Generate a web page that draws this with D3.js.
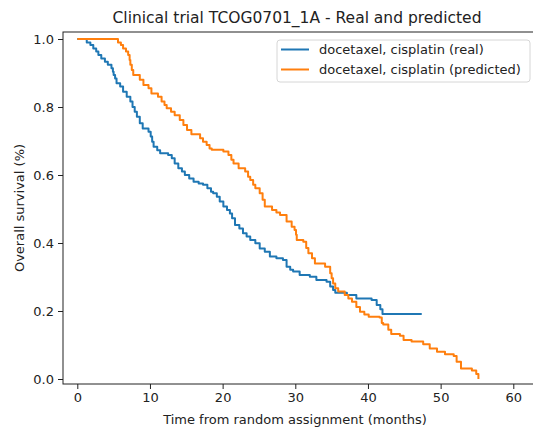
<!DOCTYPE html>
<html><head><meta charset="utf-8">
<script src="https://cdn.jsdelivr.net/npm/d3@7"></script>
<style>body{margin:0;background:#fff}svg{display:block}</style>
</head><body>
<svg id="c" width="533" height="427"></svg>
<script>
const title = "Clinical trial TCOG0701_1A - Real and predicted";
const xLabel = "Time from random assignment (months)";
const yLabel = "Overall survival (%)";
const seriesNames = ["docetaxel, cisplatin (real)", "docetaxel, cisplatin (predicted)"];
const seriesColors = ["#1f77b4", "#ff7f0e"];
const xTicks = [0, 10, 20, 30, 40, 50, 60];
const yTicks = [0.0, 0.2, 0.4, 0.6, 0.8, 1.0];

const realTimes = [0,1.3,1.8,2.2,2.6,2.9,3.3,3.8,4.2,4.7,4.9,5.0,5.2,5.4,5.9,6.3,6.8,7.3,7.6,7.9,8.2,8.6,9.0,9.8,10.1,10.3,10.5,11.0,11.4,12.5,13.0,13.4,13.9,14.4,14.8,15.4,16.0,16.7,17.3,17.9,18.4,18.7,19.2,19.6,20.1,20.6,21.0,21.3,21.7,22.3,22.8,23.3,23.8,24.5,25.1,25.8,26.5,27.4,28.3,28.8,29.3,29.7,30.6,32.0,32.9,34.3,34.8,35.2,35.5,37.1,38.4,40.5,41.2,41.7,42.0,47.4];
const realSurv = [1.000,0.990,0.982,0.972,0.963,0.953,0.943,0.933,0.924,0.914,0.904,0.894,0.884,0.870,0.860,0.845,0.830,0.816,0.800,0.786,0.771,0.752,0.737,0.727,0.713,0.698,0.683,0.673,0.664,0.659,0.649,0.634,0.620,0.610,0.600,0.590,0.580,0.575,0.571,0.561,0.551,0.546,0.536,0.522,0.507,0.497,0.487,0.473,0.453,0.443,0.429,0.419,0.409,0.399,0.384,0.374,0.360,0.355,0.350,0.330,0.321,0.316,0.306,0.301,0.291,0.286,0.272,0.262,0.254,0.247,0.237,0.232,0.218,0.205,0.191,0.191];

const predTimes = [0,5.6,6.0,6.3,6.7,7.0,7.2,7.3,7.5,7.7,8.6,9.1,9.8,10.2,11.1,11.6,12.0,12.3,12.9,13.4,14.1,14.6,15.1,15.7,16.9,17.3,17.8,18.2,18.5,20.1,20.8,21.2,21.5,22.2,23.1,23.5,23.8,24.2,24.5,25.1,25.5,25.8,26.8,27.4,27.9,28.8,29.5,29.9,30.1,30.2,31.1,31.5,31.8,32.3,32.7,34.1,34.8,35.0,35.2,35.5,35.9,36.8,37.3,37.8,38.4,38.9,39.5,40.1,41.6,41.9,42.1,42.8,43.2,44.4,44.9,46.0,47.6,48.5,49.5,50.6,51.8,52.2,52.8,54.3,54.9,55.2];
const predSurv = [1.000,0.990,0.982,0.972,0.963,0.953,0.938,0.924,0.909,0.894,0.880,0.865,0.855,0.840,0.830,0.816,0.806,0.796,0.786,0.776,0.762,0.747,0.732,0.720,0.708,0.698,0.688,0.678,0.674,0.669,0.659,0.645,0.634,0.620,0.610,0.595,0.585,0.571,0.561,0.546,0.527,0.507,0.497,0.490,0.482,0.463,0.448,0.438,0.424,0.409,0.404,0.385,0.370,0.355,0.340,0.330,0.311,0.296,0.281,0.267,0.257,0.247,0.237,0.227,0.212,0.198,0.190,0.183,0.181,0.165,0.160,0.145,0.132,0.127,0.115,0.110,0.102,0.090,0.080,0.073,0.068,0.051,0.031,0.025,0.015,0.000];

const svg = d3.select("#c");
const font = "DejaVu Sans, sans-serif";
const axL = 63, axR = 536, axT = 32, axB = 384;
const x = d3.scaleLinear().domain([0, 60]).range([77.3, 513.3]);
const y = d3.scaleLinear().domain([0, 1]).range([379, 39]);

svg.append("defs").append("clipPath").attr("id","clip")
  .append("rect").attr("x",axL).attr("y",axT).attr("width",axR-axL).attr("height",axB-axT);

const line = d3.line().x(d => x(d[0])).y(d => y(d[1])).curve(d3.curveStepAfter);
const series = [d3.zip(realTimes, realSurv), d3.zip(predTimes, predSurv)];
const g = svg.append("g").attr("clip-path","url(#clip)");
series.forEach((s, i) => {
  g.append("path").datum(s).attr("d", line).attr("fill","none")
    .attr("stroke", seriesColors[i]).attr("stroke-width", 2).attr("stroke-linejoin","round");
});

// spines
svg.append("rect").attr("x",axL).attr("y",axT).attr("width",axR-axL).attr("height",axB-axT)
  .attr("fill","none").attr("stroke","#222").attr("stroke-width",1);

// axes
const xAxis = d3.axisBottom(x).tickValues(xTicks).tickFormat(d3.format("d")).tickSize(5).tickPadding(4);
const gx = svg.append("g").attr("transform",`translate(0,${axB})`).call(xAxis);
gx.select(".domain").remove();
const yAxis = d3.axisLeft(y).tickValues(yTicks).tickFormat(d3.format(".1f")).tickSize(5).tickPadding(4);
const gy = svg.append("g").attr("transform",`translate(${axL},0)`).call(yAxis);
gy.select(".domain").remove();
[gx, gy].forEach(a => {
  a.selectAll("line").attr("stroke","#222");
  a.selectAll("text").attr("fill","#222").style("font-family",font).style("font-size","13px");
});

svg.append("text").attr("x",297).attr("y",23).attr("text-anchor","middle")
  .style("font-family",font).style("font-size","15.5px").attr("fill","#222").text(title);
svg.append("text").attr("x",295).attr("y",424).attr("text-anchor","middle")
  .style("font-family",font).style("font-size","13px").attr("fill","#222").text(xLabel);
svg.append("text").attr("transform","translate(24,208) rotate(-90)").attr("text-anchor","middle")
  .style("font-family",font).style("font-size","13px").attr("fill","#222").text(yLabel);

// legend
const lg = svg.append("g");
lg.append("rect").attr("x",277).attr("y",40).attr("width",253).attr("height",42).attr("rx",3)
  .attr("fill","#fff").attr("fill-opacity",0.8).attr("stroke","#d6d6d6").attr("stroke-width",1);
seriesNames.forEach((n, i) => {
  const yy = 49.5 + i * 20;
  lg.append("line").attr("x1",281).attr("x2",309).attr("y1",yy).attr("y2",yy)
    .attr("stroke",seriesColors[i]).attr("stroke-width",2);
  lg.append("text").attr("x",319).attr("y",yy+4.5).style("font-family",font).style("font-size","13px")
    .attr("fill","#222").text(n);
});
</script>
</body></html>
